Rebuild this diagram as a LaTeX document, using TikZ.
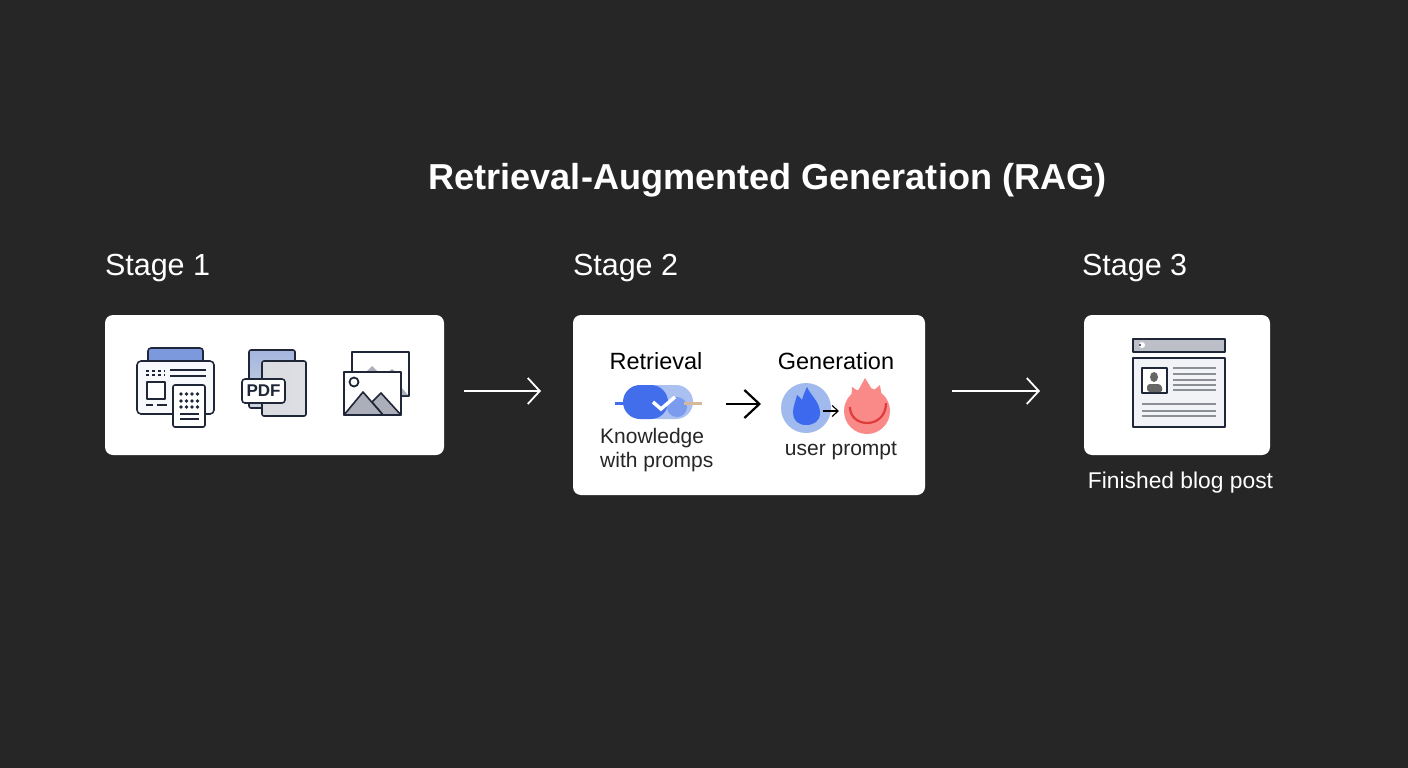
\documentclass[tikz,border=0pt]{standalone}
\usepackage{fontspec}
\setmainfont{Liberation Sans}
\usepackage{tikz}
\usetikzlibrary{positioning, arrows.meta}
\definecolor{bgdark}{RGB}{38,38,38}
\definecolor{ink}{RGB}{30,38,56}
\definecolor{tabblue}{RGB}{125,153,222}
\definecolor{sheet}{RGB}{248,249,252}
\definecolor{rock}{RGB}{172,175,186}
\definecolor{pillblue}{RGB}{66,110,235}
\definecolor{softblue}{RGB}{170,192,240}
\definecolor{flameblue}{RGB}{60,105,238}
\definecolor{halo}{RGB}{160,186,238}
\definecolor{coral}{RGB}{250,138,136}
\definecolor{deepred}{RGB}{222,60,60}
\definecolor{barline}{RGB}{140,143,150}
\tikzset{
  panel/.style={fill=white, rounded corners=8pt, inner sep=0pt},
  title/.style={font=\fontsize{36.1}{40}\selectfont\bfseries, text=white, inner sep=0pt},
  stagelabel/.style={font=\fontsize{30.5}{34}\selectfont, text=white, inner sep=0pt},
  boxlabel/.style={font=\fontsize{23.5}{26}\selectfont, text=black, inner sep=0pt},
  smalllabel/.style={font=\fontsize{21}{24}\selectfont, text=black!85, inner sep=0pt},
  flow/.style={draw=white, line width=1.8pt, -{Straight Barb[length=12pt, width=26pt, line width=1.8pt]}},
  innerflow/.style={draw=black, line width=2.2pt, -{Straight Barb[length=15pt, width=28pt, line width=2.2pt]}},
  tinyflow/.style={draw=black, line width=1.2pt, -{Straight Barb[length=6pt, width=11pt, line width=1.2pt]}},
  icon/.style={draw=ink, line width=1.6pt, line join=round},
  hair/.style={draw=ink, line width=1.8pt},
  bar/.style={draw=barline, line width=2pt}
}
\begin{document}
\begin{tikzpicture}[x=1pt, y=-1pt]
  \useasboundingbox[fill=bgdark] (0,0) rectangle (1408,768);

  \node[title] (T) at (767.5,189) [anchor=base] {Retrieval-Augmented Generation (RAG)};

  \node[panel, minimum width=339pt, minimum height=140pt] (box1) at (274.5,385) {};
  \node[panel, minimum width=352pt, minimum height=180pt] (box2) at (749,405) {};
  \node[panel, minimum width=186pt, minimum height=140pt] (box3) at (1177,385) {};

  \node[stagelabel, above=39pt of box1.north west, anchor=base west] (S1) {Stage 1};
  \node[stagelabel, above=39pt of box2.north west, anchor=base west] (S2) {Stage 2};
  \node[stagelabel, above=39pt of box3.north west, anchor=base west, xshift=-2pt] (S3) {Stage 3};

  \node[boxlabel, anchor=base] (R) at (656,369) {Retrieval};
  \node[boxlabel, anchor=base] (G) at (836,369) {Generation};
  \node[smalllabel, anchor=west, align=left] (K) at (600,450) {Knowledge\\with promps};
  \node[smalllabel, anchor=base] (U) at (841,455) {user prompt};
  \node[font=\fontsize{22.8}{26}\selectfont, text=white, inner sep=0pt,
        below=33pt of box3.south, anchor=base, xshift=3.5pt] (F) {Finished blog post};

  \coordinate (a1s) at (464,391);
  \coordinate (a1e) at (541,391);
  \coordinate (a2s) at (952,391);
  \coordinate (a2e) at (1040,391);
  \coordinate (a3s) at (726,404);
  \coordinate (a3e) at (761,404);
  \coordinate (a4s) at (823,411);
  \coordinate (a4e) at (839,411);

  % documents
  \draw[icon, fill=tabblue, rounded corners=3pt] (148,364) -- (148,348) -- (203,348) -- (203,364);
  \draw[icon, fill=sheet, rounded corners=4pt] (137,361) rectangle (214,414);
  \draw[icon, fill=white] (147,382) rectangle (165,399);
  \draw[hair] (170,370) -- (206,370) (170,376) -- (206,376);
  \draw[hair, dash pattern=on 3pt off 3pt] (146,371) -- (165,371) (146,375) -- (165,375);
  \draw[hair] (146,405) -- (153,405) (157,405) -- (167,405);
  \draw[icon, fill=white, rounded corners=2pt] (173,385) rectangle (205,427);
  \foreach \yy in {394,401,407}
    \foreach \xx in {181,186.5,192,197.5}
      \fill[ink] (\xx,\yy) circle (1.9pt);
  \draw[hair] (180,414) -- (199,414) (180,419) -- (199,419);

  % pdf
  \draw[icon, top color=softblue!85!gray, bottom color=softblue!45!gray!45, rounded corners=2pt] (249,350) rectangle (295,408);
  \draw[icon, left color=rock!45, right color=rock!40!white, rounded corners=2pt] (262,361) rectangle (306,416);
  \node[icon, fill=white, rounded corners=3pt, minimum width=43pt, minimum height=24pt, inner sep=0pt,
        font=\fontsize{17}{20}\selectfont\bfseries, text=ink] (P) at (263.5,391) {PDF};

  % pictures
  \draw[icon, fill=white] (352,352) rectangle (409,396);
  \fill[rock] (366,372) -- (372,366) -- (378,372) -- cycle;
  \fill[rock] (388,372) -- (392,369) -- (396,372) -- cycle;
  \fill[rock] (401,387) -- (408,395) -- (401,395) -- cycle;
  \draw[icon, fill=white] (344,372) rectangle (401,415);
  \draw[line width=1.8pt, draw=ink] (354,382) circle (4.5pt);
  \draw[icon, fill=rock] (372,402) -- (381,393) -- (401,415) -- (383,415) -- cycle;
  \draw[icon, fill=rock] (344,415) -- (363,392) -- (383,415) -- cycle;

  % retrieval pill
  \draw[draw=pillblue, line width=3pt] (615,403) -- (624,403);
  \fill[softblue, rounded corners=17pt] (640,385) rectangle (693,419);
  \fill[pillblue, rounded corners=17pt] (623,385) rectangle (668,419);
  \fill[pillblue!45!softblue] (677,407) circle (10pt);
  \draw[draw=barline!60!orange!60, line width=3pt] (684,403) -- (702,403);
  \draw[draw=white, line width=3.5pt] (653,402) -- (661,409) -- (675,397);

  % flames
  \fill[halo] (806,408) circle (25pt);
  \fill[flameblue] (807,387) .. controls (811,396) and (820,402) .. (820,413)
    .. controls (820,421) and (814,425) .. (806,425)
    .. controls (798,425) and (793,420) .. (793,413)
    .. controls (793,406) and (796,400) .. (797,395)
    .. controls (799,397) and (801,398) .. (802,400)
    .. controls (803,396) and (805,391) .. (807,387) -- cycle;
  \fill[coral] (867,411) circle (23pt);
  \fill[coral] (851,405) -- (852,387) -- (858,391) -- (865,378) -- (873,391) -- (880,385) -- (883,405) -- cycle;
  \draw[draw=deepred, line width=2.2pt] (850,407) .. controls (850,417) and (858,423) .. (867,423)
    .. controls (877,423) and (886,416) .. (886,403);

  % blog page
  \draw[icon, fill=rock!80] (1133,339) rectangle (1225,352);
  \fill[white] (1142,345) circle (3pt);
  \fill[ink] (1140,345) circle (1.2pt);
  \draw[icon, fill=sheet!95!gray] (1133,358) rectangle (1225,427);
  \draw[icon, fill=white] (1142,368) rectangle (1167,393);
  \fill[black!60] (1154,377) ellipse (4pt and 5pt);
  \fill[black!60, rounded corners=3pt] (1147,392) -- (1147,384) -- (1161,384) -- (1163,392) -- cycle;
  \foreach \yy in {368,374,379.5,385,390}
    \draw[bar] (1173,\yy) -- (1216,\yy);
  \foreach \yy in {404,410.5,416}
    \draw[bar] (1142,\yy) -- (1216,\yy);

  \path (a1s) edge[flow] (a1e)
        (a2s) edge[flow] (a2e)
        (a3s) edge[innerflow] (a3e)
        (a4s) edge[tinyflow] (a4e);
\end{tikzpicture}
\end{document}
